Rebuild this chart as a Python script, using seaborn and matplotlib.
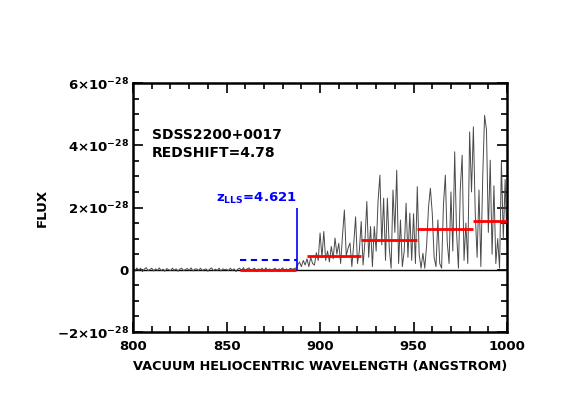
import numpy as np
import pandas as pd
import matplotlib
matplotlib.use("Agg")
import matplotlib.pyplot as plt
from matplotlib.ticker import MultipleLocator
import seaborn as sns

# ---- data (flux in units of 1e-28) ----
noise_start = 800
noise_flux = [0.04,-0.05,0.06,-0.02,0.05,-0.06,0.02,0.07,-0.03,0.01,
              0.05,-0.04,0.03,-0.02,0.06,-0.03,0.02,-0.05,0.04,0.00,
              -0.03,0.05,-0.02,0.03,-0.05,0.02,0.05,-0.03,0.01,0.04,
              -0.02,0.06,-0.04,0.02,0.03,-0.03,0.05,-0.02,0.00,0.03,
              -0.05,0.02,0.06,-0.03,0.02,-0.02,0.05,-0.04,0.03,0.00,
              0.02,-0.03,0.05,-0.02,0.03,-0.06,0.02,0.05,-0.03,0.07,
              -0.05,0.03,0.06,-0.03,0.02,0.05,-0.06,0.03,0.00,0.05,
              -0.03,0.06,-0.02,0.03,-0.05,0.02,0.05,-0.03,0.03,0.00,
              0.06,-0.02,0.03,-0.04,0.05,0.02,0.03]
forest_flux = [0.05,0.15,0.25,0.10,0.30,0.15,0.35,0.10,0.40,0.20,
               0.15,0.55,0.30,1.18,0.40,1.23,0.30,0.60,0.25,0.75,
               0.35,1.02,0.50,0.85,0.20,1.10,1.92,0.45,0.70,0.86,
               0.10,0.83,1.70,0.20,0.60,1.55,0.15,0.90,2.19,0.40,
               1.39,0.10,1.39,0.60,2.20,3.04,0.80,2.30,0.30,2.30,
               0.70,0.05,2.56,1.20,3.20,0.20,1.60,0.10,0.60,2.14,
               0.40,1.82,0.30,1.80,0.20,2.67,0.50,0.05,0.53,0.05,
               0.80,2.00,2.62,1.82,0.40,0.10,1.60,0.20,0.05,2.10,
               3.04,0.90,0.20,2.50,0.60,3.79,1.20,0.05,2.60,3.68,
               0.30,1.50,0.20,4.43,2.50,4.59,1.80,0.40,2.56,0.10,
               3.00,4.96,4.50,1.20,3.52,0.50,2.70,0.20,1.00,0.05,
               3.47,1.00,2.90,0.80]
flux_scale = 1e-28

# mean-flux segments (red): start, end, level
seg_start = [857, 893, 922, 952, 982]
seg_end = [887, 922, 952, 982, 1012]
seg_level = [0.0, 0.43, 0.96, 1.31, 1.58]

lls_wave = 887.5
lls_top = 2.0
lls_dash_start = 857
lls_dash_level = 0.30

yticks = [-2, 0, 2, 4, 6]
ytick_labels = [r'$-2{\times}10^{-28}$', '0', r'$2{\times}10^{-28}$',
                r'$4{\times}10^{-28}$', r'$6{\times}10^{-28}$']
xticks = [800, 850, 900, 950, 1000]

wave = np.concatenate([noise_start + np.arange(len(noise_flux)),
                       noise_start + len(noise_flux) + np.arange(len(forest_flux))]).astype(float)
flux = np.array(noise_flux + forest_flux) * flux_scale
df = pd.DataFrame({"wave": wave, "flux": flux})

sns.set_style("ticks")
plt.rcParams['font.family'] = ['DejaVu Sans']
plt.rcParams['font.weight'] = 'bold'
plt.rcParams['mathtext.fontset'] = 'custom'
plt.rcParams['mathtext.rm'] = 'DejaVu Sans:bold'
plt.rcParams['mathtext.it'] = 'DejaVu Sans:bold'
plt.rcParams['mathtext.bf'] = 'DejaVu Sans:bold'
plt.rcParams['mathtext.default'] = 'regular'
plt.rcParams['text.color'] = 'black'
plt.rcParams['axes.labelcolor'] = 'black'
plt.rcParams['xtick.color'] = 'black'
plt.rcParams['ytick.color'] = 'black'
plt.rcParams['axes.edgecolor'] = 'black'

fig = plt.figure(figsize=(5.64, 4.15), dpi=100)
ax = fig.add_axes([0.236, 0.2, 0.663, 0.6])

sns.lineplot(data=df, x="wave", y="flux", ax=ax, color="#4a4a4a", lw=0.7, sort=True)
ax.axhline(0, color="black", lw=1.0, zorder=1)

ax.hlines(np.array(seg_level) * flux_scale, seg_start, seg_end, color="red", lw=2.0, zorder=5)
ax.vlines(lls_wave, 0, lls_top * flux_scale, color="blue", lw=1.2, zorder=6)
ax.hlines(lls_dash_level * flux_scale, lls_dash_start, lls_wave, color="blue", lw=1.5,
          linestyles=(0, (3, 2.2)), zorder=6)

ax.text(866, 2.30e-28, r'z$_{LLS}$=4.621', color="blue", fontsize=9.5,
        fontweight="bold", ha="center", va="center")
ax.text(810, 4.32e-28, "SDSS2200+0017", fontsize=10, fontweight="bold", ha="left", va="center")
ax.text(810, 3.74e-28, "REDSHIFT=4.78", fontsize=10, fontweight="bold", ha="left", va="center")

ax.set_xlim(800, 1000)
ax.set_ylim(-2e-28, 6e-28)
ax.set_xticks(xticks)
ax.xaxis.set_minor_locator(MultipleLocator(10))
ax.set_yticks([v * flux_scale for v in yticks])
ax.set_yticklabels(ytick_labels)
ax.yaxis.set_minor_locator(MultipleLocator(0.5e-28))
ax.tick_params(which="both", direction="in", top=True, right=True, width=1.2, labelsize=9.5)
ax.tick_params(which="major", length=7)
ax.tick_params(which="minor", length=4)
ax.tick_params(axis="x", pad=6)
ax.tick_params(axis="y", pad=3)
for s in ax.spines.values():
    s.set_linewidth(1.8)
    s.set_visible(True)

ax.set_xlabel("VACUUM HELIOCENTRIC WAVELENGTH (ANGSTROM)", fontsize=9.3, fontweight="bold", labelpad=5)
ax.set_ylabel("FLUX", fontsize=9.5, fontweight="bold")
ax.yaxis.set_label_coords(-0.225, 0.5)

fig.savefig("out.png", dpi=100)
